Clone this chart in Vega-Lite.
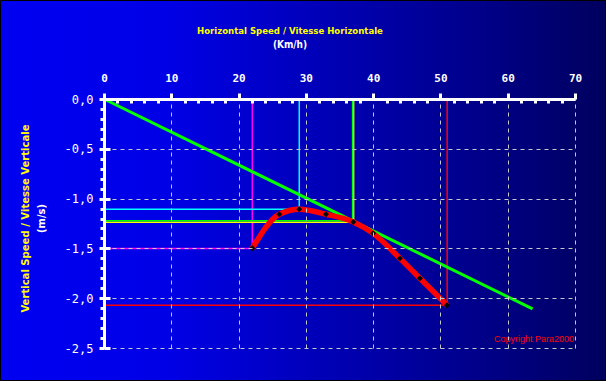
{
  "$schema": "https://vega.github.io/schema/vega-lite/v6.json",
  "width": 606,
  "height": 381,
  "autosize": {"type": "none"},
  "padding": 0,
  "background": "#0000c0",
  "view": {
    "fill": {
      "gradient": "linear",
      "x1": 0, "y1": 0, "x2": 1, "y2": 0,
      "stops": [
        {"offset": 0, "color": "#0000f2"},
        {"offset": 0.28, "color": "#0000e6"},
        {"offset": 0.55, "color": "#0000b4"},
        {"offset": 0.8, "color": "#000088"},
        {"offset": 1, "color": "#00005e"}
      ]
    },
    "stroke": "#000000",
    "strokeWidth": 2
  },
  "title": {
    "text": "Horizontal Speed / Vitesse Horizontale",
    "subtitle": "(Km/h)",
    "color": "#ffff00",
    "subtitleColor": "#ffffff",
    "font": "DejaVu Sans Condensed, sans-serif",
    "subtitleFont": "DejaVu Sans Condensed, sans-serif",
    "fontSize": 9.5,
    "subtitleFontSize": 10,
    "fontWeight": "bold",
    "subtitleFontWeight": "bold",
    "anchor": "middle",
    "frame": "group",
    "dx": -13,
    "offset": -50,
    "subtitlePadding": 5,
    "zindex": 1
  },
  "resolve": {"axis": {"y": "independent"}},
  "datasets": {
    "guides": [
      {"s": "magenta", "o": 1, "x": 0, "y": -1.5},
      {"s": "magenta", "o": 2, "x": 22.04, "y": -1.5},
      {"s": "magenta", "o": 3, "x": 22.04, "y": 0},
      {"s": "cyan", "o": 1, "x": 0, "y": -1.107},
      {"s": "cyan", "o": 2, "x": 29.02, "y": -1.107},
      {"s": "cyan", "o": 3, "x": 29.02, "y": 0},
      {"s": "yellow", "o": 1, "x": 0, "y": -1.237},
      {"s": "yellow", "o": 2, "x": 37.1, "y": -1.237},
      {"s": "yellow", "o": 3, "x": 37.1, "y": 0},
      {"s": "green", "o": 1, "x": 0, "y": -1.222},
      {"s": "green", "o": 2, "x": 36.95, "y": -1.222},
      {"s": "green", "o": 3, "x": 36.95, "y": 0},
      {"s": "red", "o": 1, "x": 0, "y": -2.071},
      {"s": "red", "o": 2, "x": 51.0, "y": -2.071},
      {"s": "red", "o": 3, "x": 51.0, "y": 0}
    ],
    "tangent": [
      {"x": 0, "y": 0},
      {"x": 63.7, "y": -2.108}
    ],
    "polar": [
      {"x": 22.04, "y": -1.499},
      {"x": 26.05, "y": -1.157},
      {"x": 29.02, "y": -1.107},
      {"x": 32.99, "y": -1.157},
      {"x": 37.05, "y": -1.235},
      {"x": 40.0, "y": -1.349},
      {"x": 43.98, "y": -1.6},
      {"x": 46.95, "y": -1.8},
      {"x": 50.97, "y": -2.07}
    ],
    "note": [
      {"x": 70, "y": -2.41, "label": "Copyright Para2000"}
    ]
  },
  "encoding": {
    "x": {
      "field": "x",
      "type": "quantitative",
      "scale": {"domain": [0, 70], "range": [104, 575], "nice": false, "zero": false},
      "axis": {
        "orient": "top",
        "offset": -99,
        "title": null,
        "values": [0,2,4,6,8,10,12,14,16,18,20,22,24,26,28,30,32,34,36,38,40,42,44,46,48,50,52,54,56,58,60,62,64,66,68,70],
        "domainColor": "#ffffff",
        "domainWidth": 3,
        "tickColor": "#ffffff",
        "tickWidth": 3,
        "tickSize": {"condition": {"test": "datum.value % 10 === 0", "value": 6}, "value": -4},
        "labelExpr": "datum.value % 10 === 0 ? datum.label : ''",
        "labelColor": "#ffffff",
        "labelFont": "DejaVu Sans Mono",
        "labelFontWeight": "bold",
        "labelFontSize": 11,
        "labelPadding": 10,
        "labelFlush": false,
        "labelOverlap": false,
        "grid": true,
        "gridColor": "#c8c8c8",
        "gridDash": [4, 4],
        "gridWidth": 1,
        "gridOpacity": {"condition": {"test": "datum.value % 10 === 0 && datum.value > 0", "value": 1}, "value": 0},
        "zindex": 1
      }
    },
    "y": {
      "field": "y",
      "type": "quantitative",
      "scale": {"domain": [-2.5, 0], "range": [348, 99], "nice": false, "zero": false},
      "axis": null
    }
  },
  "layer": [
    {
      "data": {"name": "guides"},
      "mark": {"type": "line", "strokeWidth": 1.5},
      "encoding": {
        "color": {
          "field": "s",
          "type": "nominal",
          "scale": {"domain": ["magenta", "cyan", "yellow", "green", "red"], "range": ["#ff00ff", "#00ffff", "#ffff00", "#00ff00", "#ff0000"]},
          "legend": null
        },
        "order": {"field": "o"},
        "y": {
          "field": "y",
          "type": "quantitative",
          "axis": {
            "orient": "left",
            "offset": -104,
            "values": [0,-0.1,-0.2,-0.3,-0.4,-0.5,-0.6,-0.7,-0.8,-0.9,-1,-1.1,-1.2,-1.3,-1.4,-1.5,-1.6,-1.7,-1.8,-1.9,-2,-2.1,-2.2,-2.3,-2.4,-2.5],
            "domainColor": "#ffffff",
            "domainWidth": 3,
            "tickColor": "#ffffff",
            "tickWidth": 3,
            "tickSize": {"condition": {"test": "abs(datum.value*2 - round(datum.value*2)) < 0.001", "value": 5}, "value": 4},
            "labelExpr": "abs(datum.value*2 - round(datum.value*2)) < 0.001 ? (datum.value < -0.001 ? '-' : '') + replace(format(abs(datum.value), '.1f'), '.', ',') : ''",
            "labelColor": "#ffffff",
            "labelFont": "DejaVu Sans Mono",
            "labelFontSize": 12,
            "labelPadding": 6,
            "labelFlush": false,
            "labelOverlap": false,
            "grid": true,
            "gridColor": "#c8c8c8",
            "gridDash": [4, 4],
            "gridWidth": 1,
            "gridOpacity": {"condition": {"test": "abs(datum.value*2 - round(datum.value*2)) < 0.001 && datum.value < -0.01", "value": 1}, "value": 0},
            "title": "Vertical Speed / Vitesse Verticale",
            "titleColor": "#ffff00",
            "titleFont": "DejaVu Sans Condensed, sans-serif",
            "titleFontSize": 11.2,
            "titleFontWeight": "bold",
            "titleAngle": 270,
            "titleBaseline": "middle",
            "titleAlign": "center",
            "titleX": -79,
            "titleY": 218,
            "zindex": 1
          }
        }
      }
    },
    {
      "data": {"name": "tangent"},
      "mark": {"type": "line", "color": "#00ff00", "strokeWidth": 3},
      "encoding": {
        "y": {
          "field": "y",
          "type": "quantitative",
          "axis": {
            "orient": "left",
            "offset": -104,
            "values": [0,-0.5,-1,-1.5,-2,-2.5],
            "domain": false,
            "labels": false,
            "grid": false,
            "tickColor": "#ffffff",
            "tickWidth": 3,
            "tickSize": -6,
            "title": "(m/s)",
            "titleColor": "#ffffff",
            "titleFont": "DejaVu Sans Condensed, sans-serif",
            "titleFontSize": 11,
            "titleFontWeight": "bold",
            "titleAngle": 270,
            "titleBaseline": "middle",
            "titleAlign": "center",
            "titleX": -63,
            "titleY": 218,
            "zindex": 1
          }
        }
      }
    },
    {
      "data": {"name": "polar"},
      "mark": {"type": "line", "color": "#ff0000", "strokeWidth": 5.5, "interpolate": "monotone"}
    },
    {
      "data": {"name": "polar"},
      "mark": {"type": "point", "shape": "diamond", "filled": true, "color": "#000000", "size": 35, "opacity": 1}
    },
    {
      "data": {"name": "note"},
      "mark": {"type": "text", "color": "#ff0000", "align": "right", "baseline": "middle", "font": "Liberation Sans", "fontSize": 9, "dx": -1},
      "encoding": {"text": {"field": "label"}}
    }
  ]
}
